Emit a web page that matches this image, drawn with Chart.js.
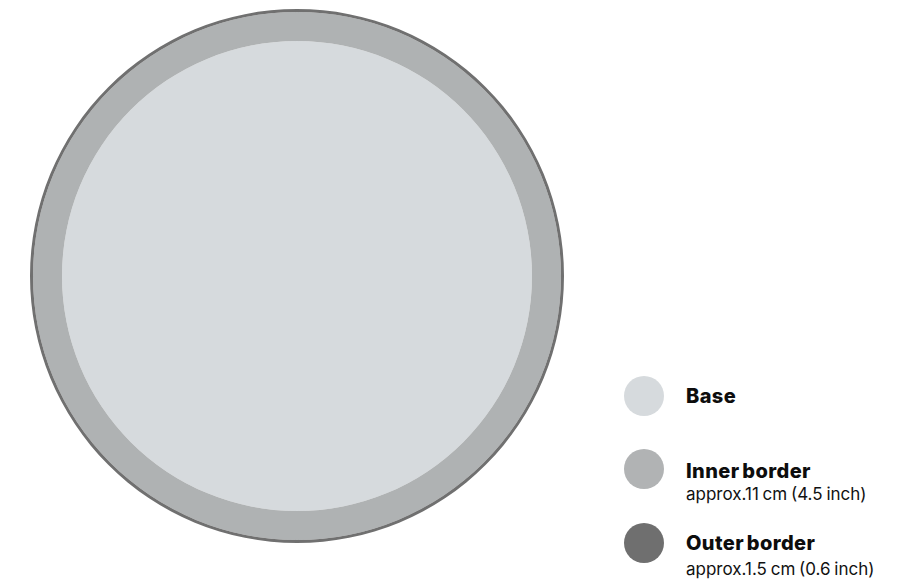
<!DOCTYPE html>
<html>
<head>
<meta charset="utf-8">
<script src="https://cdn.jsdelivr.net/npm/chart.js@4"></script>
<style>
  html, body { margin: 0; padding: 0; background: #ffffff; }
  body { width: 906px; height: 581px; position: relative; overflow: hidden; font-family: Inter, "Liberation Sans", Arial, sans-serif; color: #111; }
  #wrap { position: absolute; left: 29.5px; top: 9px; width: 534px; height: 534px; }
  .swatch { position: absolute; width: 40px; height: 40px; border-radius: 50%; }
  .title { position: absolute; left: 686px; font-weight: 800; font-size: 20px; line-height: 20px; letter-spacing: 0.4px; word-spacing: -2px; white-space: nowrap; color: #0d0d0d; }
  .sub { position: absolute; left: 686px; font-size: 17px; line-height: 17px; letter-spacing: 0px; word-spacing: -1px; white-space: nowrap; color: #111; }
</style>
</head>
<body>
<div id="wrap"><canvas id="c" width="534" height="534"></canvas></div>
<div id="legend"></div>
<script>
// Layers from outermost to innermost
const layerNames = ["Outer border", "Inner border", "Base"];
// Relative ring thickness (outer ring, inner border ring, base disc)
const ringWeights = [3, 29, 235];
const layerColors = ["#707070", "#afb2b3", "#d6dadd"];

// Legend entries (top to bottom)
const legendTitles = ["Base", "Inner border", "Outer border"];
const legendNotes = ["", "approx.11 cm (4.5 inch)", "approx.1.5 cm (0.6 inch)"];
const legendColors = ["#d6dadd", "#b1b3b4", "#6f6f6f"];

const datasets = layerNames.map((name, i) => ({
  label: name,
  data: [1],
  weight: ringWeights[i],
  backgroundColor: layerColors[i],
  borderWidth: 0,
  hoverOffset: 0
}));

new Chart(document.getElementById('c'), {
  type: 'pie',
  data: { labels: ["layer"], datasets },
  options: {
    responsive: false,
    animation: false,
    layout: { padding: 0 },
    plugins: { legend: { display: false }, tooltip: { enabled: false } },
    events: []
  }
});

// HTML legend layout
const legend = document.getElementById('legend');
const rowCenters = [395.5, 469.3, 543.3];
const titleTops = [386, 461, 533];
const subTops = [0, 485.5, 561];
legendTitles.forEach((t, i) => {
  const sw = document.createElement('div');
  sw.className = 'swatch';
  sw.style.left = (644 - 20) + 'px';
  sw.style.top = (rowCenters[i] - 20) + 'px';
  sw.style.background = legendColors[i];
  legend.appendChild(sw);
  const ti = document.createElement('div');
  ti.className = 'title';
  ti.textContent = t;
  ti.style.top = titleTops[i] + 'px';
  legend.appendChild(ti);
  if (legendNotes[i]) {
    const s = document.createElement('div');
    s.className = 'sub';
    s.textContent = legendNotes[i];
    s.style.top = subTops[i] + 'px';
    legend.appendChild(s);
  }
});
</script>
</body>
</html>
